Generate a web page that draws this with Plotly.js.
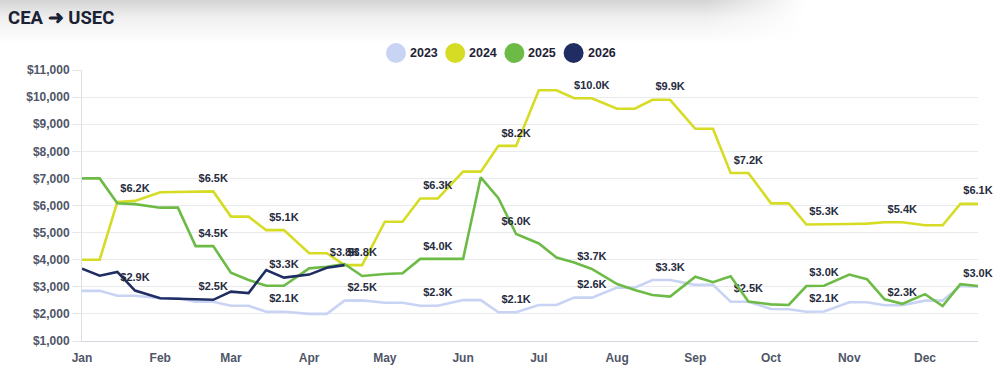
<!DOCTYPE html>
<html>
<head>
<meta charset="utf-8">
<script src="https://cdn.plot.ly/plotly-3.0.1.min.js"></script>
<style>
  html, body { margin: 0; padding: 0; background: #ffffff; }
  #wrap { position: relative; width: 1007px; height: 375px; overflow: hidden; }
  #shade {
    position: absolute; left: 0; top: 0; width: 1007px; height: 48px;
    background: linear-gradient(to bottom, rgba(0,0,0,0.17) 0px, rgba(0,0,0,0.06) 18px, rgba(0,0,0,0) 44px);
    -webkit-mask-image: linear-gradient(to right, #000 0%, #000 70%, transparent 80%);
    mask-image: linear-gradient(to right, #000 0%, #000 70%, transparent 80%);
  }
  #chart { position: absolute; left: 0; top: 0; width: 1007px; height: 375px; }
</style>
</head>
<body>
<div id="wrap">
  <div id="shade"></div>
  <div id="chart"></div>
</div>
<script>
// ---- data ----
const seriesNames = ['2023', '2024', '2025', '2026'];
const seriesColors = ['#c9d4f4', '#d6dc24', '#6dbb46', '#1f2d62'];

const weeks = [
  '2023-01-01','2023-01-08','2023-01-15','2023-01-22',
  '2023-02-01','2023-02-08','2023-02-15','2023-02-22',
  '2023-03-01','2023-03-08','2023-03-15','2023-03-22',
  '2023-04-01','2023-04-08','2023-04-15','2023-04-22',
  '2023-05-01','2023-05-08','2023-05-15','2023-05-22',
  '2023-06-01','2023-06-08','2023-06-15','2023-06-22',
  '2023-07-01','2023-07-08','2023-07-15','2023-07-22',
  '2023-08-01','2023-08-08','2023-08-15','2023-08-22',
  '2023-09-01','2023-09-08','2023-09-15','2023-09-22',
  '2023-10-01','2023-10-08','2023-10-15','2023-10-22',
  '2023-11-01','2023-11-08','2023-11-15','2023-11-22',
  '2023-12-01','2023-12-08','2023-12-15','2023-12-22'
];

const values2023 = [
  2850, 2850, 2670, 2670,
  2580, 2580, 2450, 2450,
  2300, 2300, 2080, 2080,
  2000, 2000, 2490, 2500,
  2410, 2410, 2300, 2300,
  2510, 2510, 2060, 2060,
  2330, 2330, 2600, 2600,
  2970, 2970, 3250, 3250,
  3070, 3070, 2450, 2450,
  2180, 2170, 2080, 2090,
  2430, 2430, 2320, 2320,
  2490, 2490, 3030, 3000
];
const values2024 = [
  4000, 4000, 6130, 6170,
  6490, 6500, 6520, 6520,
  5590, 5590, 5090, 5090,
  4240, 4240, 3800, 3800,
  5400, 5400, 6260, 6260,
  7250, 7250, 8200, 8200,
  10250, 10250, 9960, 9960,
  9570, 9570, 9900, 9900,
  8830, 8830, 7200, 7200,
  6080, 6080, 5300, 5300,
  5320, 5330, 5380, 5380,
  5270, 5270, 6060, 6060
];
const values2025 = [
  7000, 7000, 6080, 6050,
  5920, 5920, 4500, 4500,
  3520, 3250, 3040, 3040,
  3680, 3740, 3840, 3400,
  3470, 3500, 4030, 4030,
  4030, 7040, 6270, 4950,
  4600, 4080, 3900, 3660,
  3100, 2880, 2700, 2640,
  3370, 3170, 3390, 2460,
  2350, 2330, 3030, 3040,
  3450, 3280, 2540, 2370,
  2730, 2290, 3100, 3030
];
const values2026 = [
  3670, 3410, 3550, 2860,
  2580, 2560, 2520, 2520,
  2820, 2770, 3620, 3340,
  3450, 3700, 3800
];

// data labels (shown ones only; '' = hidden)
const labels2023 = [
  '', '', '', '',
  '', '', '', '',
  '', '', '', '$2.1K',
  '', '', '', '$2.5K',
  '', '', '', '$2.3K',
  '', '', '', '$2.1K',
  '', '', '', '$2.6K',
  '', '', '', '$3.3K',
  '', '', '', '$2.5K',
  '', '', '', '$2.1K',
  '', '', '', '$2.3K',
  '', '', '', ''
];
const labels2024 = [
  '', '', '', '$6.2K',
  '', '', '', '$6.5K',
  '', '', '', '$5.1K',
  '', '', '', '$3.8K',
  '', '', '', '$6.3K',
  '', '', '', '$8.2K',
  '', '', '', '$10.0K',
  '', '', '', '$9.9K',
  '', '', '', '$7.2K',
  '', '', '', '$5.3K',
  '', '', '', '$5.4K',
  '', '', '', '$6.1K'
];
const labels2025 = [
  '', '', '', '',
  '', '', '', '$4.5K',
  '', '', '', '',
  '', '', '', '',
  '', '', '', '$4.0K',
  '', '', '', '$6.0K',
  '', '', '', '$3.7K',
  '', '', '', '',
  '', '', '', '',
  '', '', '', '$3.0K',
  '', '', '', '',
  '', '', '', '$3.0K'
];
const labels2026 = [
  '', '', '', '$2.9K',
  '', '', '', '$2.5K',
  '', '', '', '$3.3K',
  '', '', '$3.8K'
];

const yTickVals = [1000, 2000, 3000, 4000, 5000, 6000, 7000, 8000, 9000, 10000, 11000];
const yTickText = ['$1,000', '$2,000', '$3,000', '$4,000', '$5,000', '$6,000', '$7,000', '$8,000', '$9,000', '$10,000', '$11,000'];

// ---- chart ----
const FONT = '"Liberation Sans", Arial, sans-serif';
const allValues = [values2023, values2024, values2025, values2026];
const allLabels = [labels2023, labels2024, labels2025, labels2026];

const traces = [];
allValues.forEach((vals, i) => {
  traces.push({
    type: 'scatter',
    mode: 'lines+markers+text',
    name: seriesNames[i],
    x: weeks.slice(0, vals.length),
    y: vals,
    text: allLabels[i],
    textposition: 'top center',
    textfont: { family: FONT, size: 11, color: '#262b3d', weight: 'bold' },
    line: { color: seriesColors[i], width: 2.6 },
    marker: { size: 9, opacity: 0, color: seriesColors[i] },
    cliponaxis: false,
    showlegend: false,
    hoverinfo: 'x+y'
  });
});

// custom legend: big circle swatch + bold label, centred above the plot
const W = 1007, H = 375;
const M = { l: 82, r: 29, t: 70, b: 34 };
const plotW = W - M.l - M.r, plotH = H - M.t - M.b;
const legendCenterY = 53, legendFirstX = 396, legendStep = 59.2, swatchR = 10;
const toPaperX = px => (px - M.l) / plotW;
const toPaperY = py => 1 + (M.t - py) / plotH;

const shapes = [];
const annotations = [];
seriesNames.forEach((n, i) => {
  const cx = legendFirstX + i * legendStep;
  shapes.push({
    type: 'circle', xref: 'paper', yref: 'paper',
    xsizemode: 'pixel', ysizemode: 'pixel',
    xanchor: toPaperX(cx), yanchor: toPaperY(legendCenterY),
    x0: -swatchR, x1: swatchR, y0: -swatchR, y1: swatchR,
    fillcolor: seriesColors[i], line: { width: 0 }, layer: 'above'
  });
  annotations.push({
    xref: 'paper', yref: 'paper',
    x: toPaperX(cx + swatchR + 2), y: toPaperY(legendCenterY),
    xanchor: 'left', yanchor: 'middle',
    text: n, showarrow: false,
    font: { family: FONT, size: 12.5, color: '#1f2336', weight: 'bold' }
  });
});

const layout = {
  width: W,
  height: H,
  autosize: false,
  margin: { l: M.l, r: M.r, t: M.t, b: M.b, pad: 0 },
  paper_bgcolor: 'rgba(0,0,0,0)',
  plot_bgcolor: 'rgba(0,0,0,0)',
  font: { family: FONT, color: '#4f5668' },
  title: {
    text: 'CEA ➜ USEC',
    font: { family: 'Roboto, "Liberation Sans", sans-serif', size: 18.5, color: '#1b2134', weight: 'bold' },
    xref: 'container', yref: 'container',
    x: 0.008, xanchor: 'left',
    y: 0.952, yanchor: 'middle'
  },
  showlegend: false,
  shapes: shapes,
  annotations: annotations,
  xaxis: {
    type: 'date',
    range: ['2023-01-01', '2023-12-22'],
    tick0: '2023-01-01',
    dtick: 'M1',
    tickformat: '%b',
    showgrid: false,
    zeroline: false,
    showline: true,
    linecolor: '#d3d6dd',
    linewidth: 1,
    ticks: '',
    ticklabelstandoff: 6,
    tickfont: { family: FONT, size: 12, color: '#4f5668', weight: 'bold' },
    fixedrange: true
  },
  yaxis: {
    range: [1000, 11000],
    tickmode: 'array',
    tickvals: yTickVals,
    ticktext: yTickText,
    showgrid: true,
    gridcolor: '#e9eaee',
    gridwidth: 1,
    zeroline: false,
    showline: true,
    linecolor: '#dcdfe5',
    linewidth: 1,
    ticks: 'outside',
    ticklen: 9,
    tickcolor: '#e6e8ec',
    tickfont: { family: FONT, size: 12, color: '#4f5668', weight: 'bold' },
    fixedrange: true
  }
};

Plotly.newPlot('chart', traces, layout, { displayModeBar: false, staticPlot: true });
</script>
</body>
</html>
